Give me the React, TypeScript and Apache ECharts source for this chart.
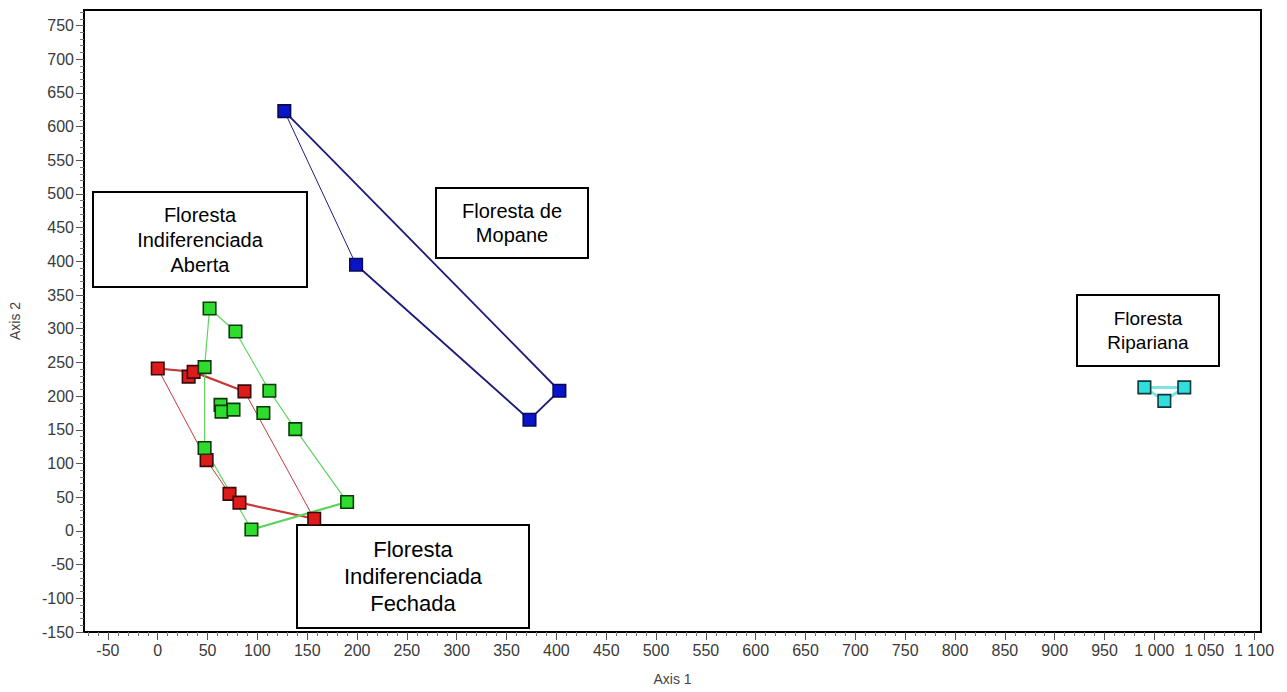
import React, { useEffect, useRef } from "react";
import * as echarts from "echarts";

// ---- data ----
const xTicks = [-50, 0, 50, 100, 150, 200, 250, 300, 350, 400, 450, 500, 550, 600, 650, 700, 750, 800, 850, 900, 950, 1000, 1050, 1100];
const yTicks = [-150, -100, -50, 0, 50, 100, 150, 200, 250, 300, 350, 400, 450, 500, 550, 600, 650, 700, 750];

// Floresta de Mopane
const mopanePts: [number, number][] = [[127, 623], [199, 395], [373, 165], [403, 208]];
const mopaneHull = [0, 1, 2, 3, 0];
const mopaneThick = [[1, 2], [2, 3], [3, 0]];

// Floresta Ripariana
const riparPts: [number, number][] = [[990, 213], [1010, 193], [1030, 213]];
const riparHull = [0, 1, 2, 0];
const riparThick: number[][] = [];

// Floresta Indiferenciada Fechada (red)
const fechadaPts: [number, number][] = [[0, 241], [31, 229], [36, 236], [87, 207], [49, 105], [72, 55], [82, 42], [157, 18]];
const fechadaHull = [0, 2, 3, 7, 6, 5, 4, 0];
const fechadaThick = [[0, 2], [2, 3], [7, 6], [6, 5]];

// Floresta Indiferenciada Aberta (green)
const abertaPts: [number, number][] = [[52, 330], [78, 296], [47, 243], [112, 208], [63, 187], [64, 177], [76, 180], [106, 175], [138, 151], [47, 123], [190, 43], [94, 2]];
const abertaHull = [0, 1, 3, 8, 10, 11, 9, 2, 0];
const abertaThick = [[10, 11]];

const X_MIN = -74;
const X_MAX = 1107;
const Y_MIN = -150;
const Y_MAX = 773;

const FONT_TICK = "'Liberation Sans Narrow', 'Arial Narrow', 'Liberation Sans', Arial, sans-serif";
const FONT_BOX = "'Liberation Sans', Arial, sans-serif";

function minorValues(min: number, max: number, step: number, major: number) {
  const out: number[] = [];
  for (let v = Math.ceil(min / step) * step; v <= max; v += step) {
    if (v % major !== 0) out.push(v);
  }
  return out;
}

function fmt(v: number) {
  const s = String(Math.abs(v));
  const body = s.length > 3 ? s.slice(0, s.length - 3) + " " + s.slice(s.length - 3) : s;
  return (v < 0 ? "-" : "") + body;
}

function hullSeries(name: string, pts: [number, number][], hull: number[], thick: number[][], color: string, thin: number, wide: number) {
  const out: any[] = [
    {
      type: "line",
      name: name + "-hull",
      data: hull.map((i) => pts[i]),
      symbol: "none",
      lineStyle: { color, width: thin },
      z: 2,
      silent: true,
    },
  ];
  thick.forEach((e, k) => {
    out.push({
      type: "line",
      name: name + "-edge" + k,
      data: [pts[e[0]], pts[e[1]]],
      symbol: "none",
      lineStyle: { color, width: wide },
      z: 2,
      silent: true,
    });
  });
  return out;
}

function pointSeries(name: string, pts: [number, number][], color: string, border: string) {
  return {
    type: "scatter",
    name,
    data: pts,
    symbol: "rect",
    symbolSize: 12.5,
    itemStyle: { color, borderColor: border, borderWidth: 1.6, opacity: 1 },
    z: 5,
  };
}

function box(x: number, y: number, w: number, h: number, text: string, size: number, lh: number) {
  return {
    type: "group",
    z: 100,
    children: [
      {
        type: "rect",
        shape: { x, y, width: w, height: h },
        style: { fill: "#fff", stroke: "#000", lineWidth: 2 },
      },
      {
        type: "text",
        x: x + w / 2,
        y: y + h / 2,
        style: {
          text,
          font: `${size}px ${FONT_BOX}`,
          fill: "#000",
          align: "center",
          verticalAlign: "middle",
          lineHeight: lh,
        },
      },
    ],
  };
}

export default function App() {
  const ref = useRef<HTMLDivElement>(null);

  useEffect(() => {
    if (!ref.current) return;
    const chart = echarts.init(ref.current, undefined, { renderer: "svg" });
    const labelStyle = { fontFamily: FONT_TICK, fontSize: 16, color: "#3a3a3a" };
    const option: any = {
      animation: false,
      backgroundColor: "#fff",
      grid: { left: 82, right: 26, top: 10, bottom: 60, show: true, borderColor: "#000", borderWidth: 2, backgroundColor: "transparent" },
      xAxis: [
        {
          type: "value",
          min: X_MIN,
          max: X_MAX,
          position: "bottom",
          name: "Axis 1",
          nameLocation: "middle",
          nameGap: 40,
          nameTextStyle: { fontFamily: FONT_TICK, fontSize: 14, color: "#444" },
          axisLine: { show: true, onZero: false, lineStyle: { color: "#000", width: 2 } },
          axisTick: { show: true, customValues: xTicks, length: 8, lineStyle: { color: "#555", width: 1 } },
          axisLabel: { customValues: xTicks, formatter: (v: number) => fmt(v), margin: 10, ...labelStyle },
          splitLine: { show: false },
        },
        {
          type: "value",
          min: X_MIN,
          max: X_MAX,
          position: "bottom",
          axisLine: { show: false, onZero: false },
          axisTick: { show: true, customValues: minorValues(X_MIN, X_MAX, 10, 50), length: 4, lineStyle: { color: "#777", width: 1 } },
          axisLabel: { show: false },
          splitLine: { show: false },
        },
      ],
      yAxis: [
        {
          type: "value",
          min: Y_MIN,
          max: Y_MAX,
          position: "left",
          name: "Axis 2",
          nameLocation: "middle",
          nameGap: 62,
          nameTextStyle: { fontFamily: FONT_TICK, fontSize: 14, color: "#444" },
          axisLine: { show: true, onZero: false, lineStyle: { color: "#000", width: 2 } },
          axisTick: { show: true, customValues: yTicks, length: 8, lineStyle: { color: "#555", width: 1 } },
          axisLabel: { customValues: yTicks, formatter: (v: number) => fmt(v), margin: 10, ...labelStyle },
          splitLine: { show: false },
        },
        {
          type: "value",
          min: Y_MIN,
          max: Y_MAX,
          position: "left",
          axisLine: { show: false, onZero: false },
          axisTick: { show: true, customValues: minorValues(Y_MIN, Y_MAX, 10, 50), length: 4, lineStyle: { color: "#777", width: 1 } },
          axisLabel: { show: false },
          splitLine: { show: false },
        },
      ],
      series: [
        ...hullSeries("Mopane", mopanePts, mopaneHull, mopaneThick, "#1c1c7a", 1, 1.8),
        ...hullSeries("Ripariana", riparPts, riparHull, riparThick, "#7fe3e3", 3, 3),
        ...hullSeries("Fechada", fechadaPts, fechadaHull, fechadaThick, "#c83a3a", 1, 2.2),
        ...hullSeries("Aberta", abertaPts, abertaHull, abertaThick, "#5fd35f", 1.2, 2.2),
        pointSeries("Floresta de Mopane", mopanePts, "#0a14c8", "#0a0a50"),
        pointSeries("Floresta Ripariana", riparPts, "#30dede", "#0a3a3a"),
        pointSeries("Floresta Indiferenciada Fechada", fechadaPts, "#de1a1a", "#3a0a0a"),
        pointSeries("Floresta Indiferenciada Aberta", abertaPts, "#2edc2e", "#0a3a0a"),
      ],
      graphic: [
        box(93, 192, 214, 95, "Floresta\nIndiferenciada\nAberta", 20, 25),
        box(436, 188, 152, 70, "Floresta de\nMopane", 20, 24),
        box(1077, 295, 142, 71, "Floresta\nRipariana", 19, 24),
        box(297, 525, 232, 103, "Floresta\nIndiferenciada\nFechada", 22, 27),
      ],
    };
    chart.setOption(option);
    return () => chart.dispose();
  }, []);

  return <div ref={ref} style={{ position: "absolute", left: 0, top: 0, width: 1287, height: 692 }} />;
}
